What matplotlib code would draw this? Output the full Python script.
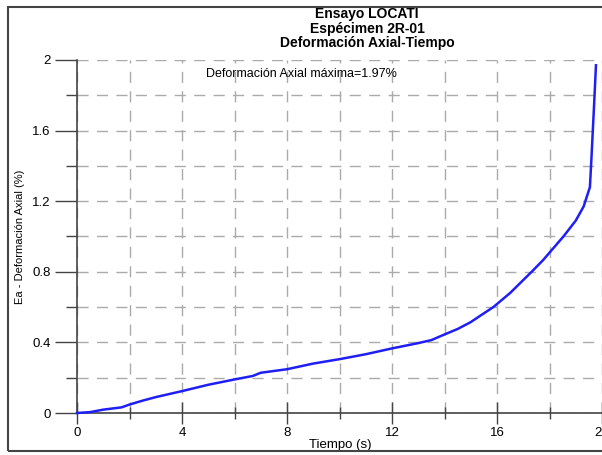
import matplotlib.pyplot as plt
from matplotlib.patches import Rectangle
from matplotlib.ticker import MultipleLocator

plt.rcParams["font.family"] = ["Liberation Sans", "DejaVu Sans"]

# tiempo (s) y deformacion axial (%)
tiempo = [0, 0.5, 1.0, 1.7, 2.0, 2.5, 3.0, 4.0, 5.0, 6.0, 6.7, 7.0, 8.0, 9.0, 10.0,
          11.0, 12.0, 13.0, 13.5, 14.0, 14.5, 15.0, 15.35, 15.86, 16.5, 17.32, 17.76,
          18.53, 19.0, 19.3, 19.54, 19.6, 19.7, 19.77]
deformacion = [0, 0.005, 0.019, 0.032, 0.048, 0.07, 0.09, 0.124, 0.16, 0.19, 0.21, 0.228,
               0.248, 0.28, 0.305, 0.333, 0.366, 0.396, 0.413, 0.445, 0.476, 0.515, 0.55,
               0.60, 0.68, 0.80, 0.867, 1.0, 1.09, 1.17, 1.28, 1.45, 1.75, 1.97]
def_max = 1.97

fig = plt.figure(figsize=(6.02, 4.55), dpi=100)
ax = fig.add_axes([77/602, 1 - 413/455, 525/602, 353/455])

gris = "#444444"
ax.plot(tiempo, deformacion, color="#1f1ff5", lw=1.8, clip_on=False, zorder=3)

ax.set_xlim(0, 20)
ax.set_ylim(0, 2)
ax.xaxis.set_major_locator(MultipleLocator(4))
ax.xaxis.set_minor_locator(MultipleLocator(2))
ax.yaxis.set_major_locator(MultipleLocator(0.4))
ax.yaxis.set_minor_locator(MultipleLocator(0.2))
ax.xaxis.set_major_formatter(plt.FuncFormatter(lambda v, p: "%g" % v))
ax.yaxis.set_major_formatter(plt.FuncFormatter(lambda v, p: "%g" % v))

ax.grid(True, which="both", color="#aaaaaa", ls=(0, (8, 6)), lw=1)
for s in ["top", "right"]:
    ax.spines[s].set_visible(False)
for s in ["left", "bottom"]:
    ax.spines[s].set_color(gris)
    ax.spines[s].set_linewidth(1.2)

ax.tick_params(axis="x", which="major", direction="inout", length=16, color=gris,
               labelsize=9.5, pad=2, width=1)
ax.tick_params(axis="x", which="minor", direction="inout", length=9, color=gris, width=1)
ax.tick_params(axis="y", which="major", direction="out", length=16, color=gris,
               labelsize=9.5, pad=3, width=1)
ax.tick_params(axis="y", which="minor", direction="out", length=8, color=gris, width=1)

ax.set_xlabel("Tiempo (s)", fontsize=9.5, labelpad=0)
ax.xaxis.set_label_coords((340 - 77) / 525, -0.075)
ax.set_ylabel("Ea - Deformación Axial (%)", fontsize=8)
ax.yaxis.set_label_coords((25 - 77) / 525, 0.5)

ax.text(0.245, 0.96, "Deformación Axial máxima=%.2f%%" % def_max, transform=ax.transAxes,
        fontsize=9, va="center", ha="left")

fig.text(367/602, 1 - 7/455, "Ensayo LOCATI\nEspécimen 2R-01\nDeformación Axial-Tiempo",
         ha="center", va="top", fontsize=10, fontweight="bold", linespacing=1.05)

# marco exterior
fig.patches.append(Rectangle((8/602, 4/455), 1.0, 1 - 11/455, transform=fig.transFigure,
                             fill=False, ec=gris, lw=1.5))

fig.savefig("out.png", dpi=100)
